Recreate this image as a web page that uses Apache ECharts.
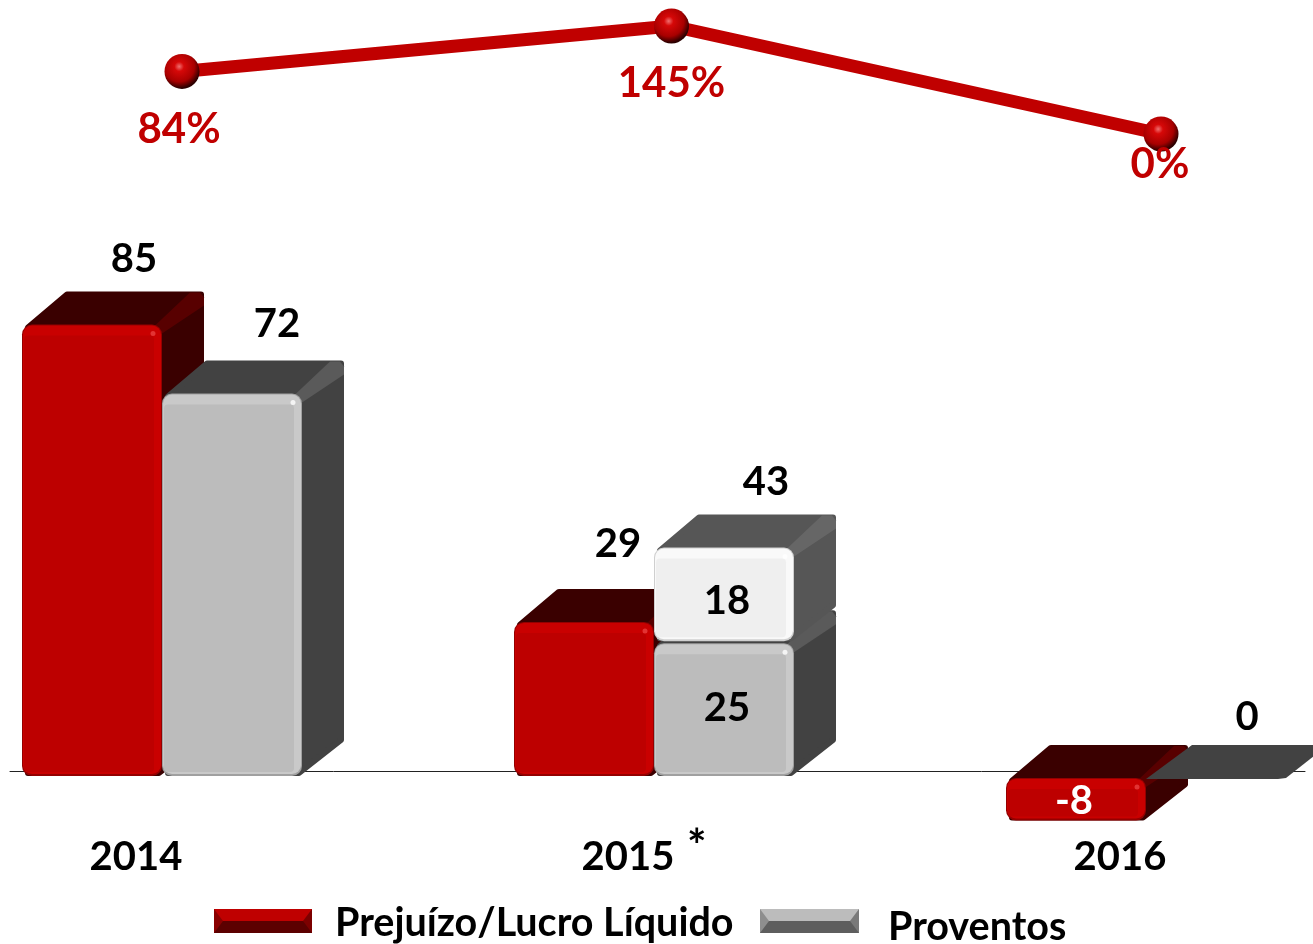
<!DOCTYPE html>
<html>
<head>
<meta charset="utf-8">
<style>
  html, body { margin: 0; padding: 0; background: #fff; }
  #chart { width: 1313px; height: 944px; }
</style>
<script src="https://cdn.jsdelivr.net/npm/echarts@6/dist/echarts.min.js"></script>
</head>
<body>
<div id="chart"></div>
<script>
// Chart data
const years = ["2014", "2015", "2016"];
const payout = [84, 145, 0];
const lucro = [85, 29, -8];
const proventosBase = [72, 25, 0];
const proventosExtra = [null, 18, null];
const proventosTotal = [72, 43, 0];

const lucroName = "Prejuízo/Lucro Líquido";
const proventosName = "Proventos";
const fontName = "Lato, Carlito, sans-serif";

// Bar look
const barWidth = 140;
const depthX = 42;
const depthY = 33;

const redColors = {
  back: "#3a0000",
  strip: "#580000",
  edge: "#940000",
  bevel: "#c90000",
  main: "#bd0000",
  spark: "#e84040",
};
const grayColors = {
  back: "#424242",
  strip: "#5a5a5a",
  edge: "#a0a0a0",
  bevel: "#c9c9c9",
  main: "#bcbcbc",
  spark: "#ffffff",
};
const whiteColors = {
  back: "#565656",
  strip: "#666666",
  edge: "#cfcfcf",
  bevel: "#f9f9f9",
  main: "#efefef",
  spark: "#ffffff",
};

// Label offset from the middle of the front face, px
const lucroLabelShift = [[42, -65], [34, -78], [-2, 23]];
const baseLabelShift = [[45, -69], [3, 65], [31, -61]];
const extraLabelShift = [[0, 0], [3, 54], [0, 0]];
const totalLabelShift = [42, -65];

function solidBar(api, colors, shiftX, labelColor, labelShift) {
  const cat = api.value(0);
  const from = api.value(1);
  const to = api.value(2);
  const center = api.coord([cat, from]);
  const x = center[0] + shiftX;
  const drop = to > 0 ? 5 : 7;
  const gap = from > 0 ? 2 : 0;
  const y0 = center[1] + drop - gap;
  const y1 = api.coord([cat, to])[1] + drop;
  const top = Math.min(y0, y1);
  const h = Math.abs(y1 - y0);
  const w = barWidth;
  const children = [];

  if (h > 2) {
    children.push(
      {
        type: "polygon",
        shape: {
          points: [
            [x + 6, top + 3],
            [x + depthX + 3, top - depthY + 3],
            [x + w + depthX - 3, top - depthY + 3],
            [x + w + depthX - 3, top + h - depthY - 3],
            [x + w - 3, top + h - 3],
            [x + 6, top + h - 3],
          ],
        },
        style: {
          fill: colors.back,
          stroke: colors.back,
          lineWidth: 6,
          lineJoin: "round",
        },
      },
      {
        type: "polygon",
        shape: {
          points: [
            [x + w - 8, top + 2],
            [x + w + depthX - 14, top - depthY + 1],
            [x + w + depthX - 4, top - depthY + 1],
            [x + w + depthX, top - depthY + 6],
            [x + w + depthX, top - depthY + 14],
            [x + w, top + 9],
          ],
        },
        style: { fill: colors.strip },
      },
      {
        type: "rect",
        shape: { x: x, y: top, width: w, height: h, r: 10 },
        style: { fill: colors.edge },
      },
      {
        type: "rect",
        shape: { x: x + 1, y: top + 1, width: w - 2, height: h - 3, r: 9 },
        style: { fill: colors.bevel },
      },
      {
        type: "rect",
        shape: {
          x: x + 2,
          y: top + 11,
          width: w - 10,
          height: h - 15,
          r: 4,
        },
        style: { fill: colors.main },
      },
      {
        type: "circle",
        shape: { cx: x + w - 9, cy: top + 9, r: 2.5 },
        style: { fill: colors.spark, opacity: 0.8 },
      },
    );
  } else {
    // zero height: only the flat top is left
    children.push({
      type: "polygon",
      shape: {
        points: [
          [x, top + 1],
          [x + depthX + 4, top - depthY],
          [x + w + depthX, top - depthY],
          [x + w, top],
          [x + w - 8, top + 1],
        ],
      },
      style: { fill: colors.back },
    });
  }

  const label = api.value(3);
  if (label !== "") {
    children.push({
      type: "text",
      style: {
        x: x + w / 2 + labelShift[0],
        y: top + labelShift[1],
        text: String(label),
        fill: labelColor,
        font: "bold 40px " + fontName,
        align: "center",
        verticalAlign: "middle",
      },
    });
  }

  return { type: "group", children: children };
}

const lucroData = years.map((y, i) => [i, 0, lucro[i], lucro[i]]);
const baseData = years.map((y, i) => [
  i,
  0,
  proventosBase[i],
  proventosBase[i],
]);
const extraData = years
  .map((y, i) =>
    proventosExtra[i] == null
      ? null
      : [i, proventosBase[i], proventosTotal[i], proventosExtra[i]],
  )
  .filter(Boolean);

const payoutLabelShift = [[-3, 58], [0, 57], [-1, 30]];

const sphereColor = {
  type: "radial",
  x: 0.42,
  y: 0.36,
  r: 0.62,
  colorStops: [
    { offset: 0, color: "#f07070" },
    { offset: 0.22, color: "#d60808" },
    { offset: 0.7, color: "#a80000" },
    { offset: 1, color: "#2c0000" },
  ],
};

function hardSplit(top, bottom) {
  return {
    type: "linear",
    x: 0,
    y: 0,
    x2: 0,
    y2: 1,
    colorStops: [
      { offset: 0, color: top },
      { offset: 0.5, color: top },
      { offset: 0.5, color: bottom },
      { offset: 1, color: bottom },
    ],
  };
}

const option = {
  backgroundColor: "#ffffff",
  animation: false,
  textStyle: { fontFamily: fontName },
  grid: [
    // payout line
    { left: -62.75, width: 1468.5, top: 26, height: 108, outerBoundsMode: "none" },
    // bars, category bands are centred under the year labels
    { left: -110, width: 1476, top: 293, height: 531, outerBoundsMode: "none" },
    // base line only
    { left: 10, width: 1295, top: 770, height: 1, outerBoundsMode: "none" },
  ],
  xAxis: [
    { gridIndex: 0, type: "category", data: years, show: false },
    {
      gridIndex: 1,
      type: "category",
      data: years,
      axisLine: { show: false, onZero: false },
      axisTick: { show: false },
      axisLabel: {
        margin: 13,
        fontSize: 40,
        fontWeight: "bold",
        color: "#000",
        fontFamily: fontName,
      },
    },
    {
      gridIndex: 2,
      type: "category",
      data: [],
      axisLine: { show: true, lineStyle: { color: "#222", width: 1 } },
      axisTick: { show: false },
      axisLabel: { show: false },
    },
  ],
  yAxis: [
    { gridIndex: 0, type: "value", min: 0, max: 145, show: false },
    { gridIndex: 1, type: "value", min: -10, max: 90, show: false },
    { gridIndex: 2, type: "value", min: 0, max: 1, show: false },
  ],
  legend: [
    {
      left: 214,
      top: 903,
      padding: 0,
      itemWidth: 98,
      itemHeight: 24,
      icon: "rect",
      data: [
        { name: lucroName, itemStyle: { color: hardSplit("#bf0000", "#5c0000") } },
      ],
      formatter: "{a|{name}}",
      textStyle: {
        rich: {
          a: {
            fontSize: 39.5,
            fontWeight: "bold",
            color: "#000",
            fontFamily: fontName,
            padding: [4, 0, 0, 18],
          },
        },
      },
    },
    {
      left: 760,
      top: 907,
      padding: 0,
      itemWidth: 99,
      itemHeight: 24,
      icon: "rect",
      data: [
        { name: proventosName, itemStyle: { color: hardSplit("#bcbcbc", "#5e5e5e") } },
      ],
      formatter: "{a|{name}}",
      textStyle: {
        rich: {
          a: {
            fontSize: 39.5,
            fontWeight: "bold",
            color: "#000",
            fontFamily: fontName,
            padding: [12, 0, 0, 24],
          },
        },
      },
    },
  ],
  graphic: [
    {
      type: "text",
      left: 687,
      top: 824,
      style: {
        text: "*",
        font: "bold 46px " + fontName,
        fill: "#000",
      },
    },
    // legend swatch bevel ends
    {
      type: "polygon",
      z: 20,
      shape: { points: [[214, 909], [223, 921], [214, 933]] },
      style: { fill: "#8a0000" },
    },
    {
      type: "polygon",
      z: 20,
      shape: { points: [[312, 909], [303, 921], [312, 933]] },
      style: { fill: "#7c0000" },
    },
    {
      type: "polygon",
      z: 20,
      shape: { points: [[760, 909], [769, 921], [760, 933]] },
      style: { fill: "#8e8e8e" },
    },
    {
      type: "polygon",
      z: 20,
      shape: { points: [[859, 909], [850, 921], [859, 933]] },
      style: { fill: "#7a7a7a" },
    },
  ],
  series: [
    {
      name: "Payout",
      type: "line",
      xAxisIndex: 0,
      yAxisIndex: 0,
      data: payout.map((v, i) => ({
        value: v,
        label: { offset: payoutLabelShift[i] },
      })),
      lineStyle: { color: "#c00000", width: 13 },
      symbol: "circle",
      symbolSize: 35,
      showSymbol: true,
      itemStyle: { color: sphereColor },
      label: {
        show: true,
        position: "inside",
        formatter: "{c}%",
        fontSize: 42,
        fontWeight: "bold",
        color: "#c00000",
        fontFamily: fontName,
      },
      z: 3,
    },
    {
      name: lucroName,
      type: "custom",
      xAxisIndex: 1,
      yAxisIndex: 1,
      data: lucroData,
      itemStyle: { color: "#bf0000" },
      renderItem: (params, api) =>
        solidBar(
          api,
          redColors,
          -114,
          api.value(2) < 0 ? "#fff" : "#000",
          lucroLabelShift[params.dataIndex],
        ),
      z: 2,
    },
    {
      name: proventosName,
      type: "custom",
      xAxisIndex: 1,
      yAxisIndex: 1,
      data: baseData,
      itemStyle: { color: "#bcbcbc" },
      renderItem: (params, api) =>
        solidBar(api, grayColors, 26, "#000", baseLabelShift[params.dataIndex]),
      z: 2,
    },
    {
      name: proventosName,
      type: "custom",
      xAxisIndex: 1,
      yAxisIndex: 1,
      data: extraData,
      itemStyle: { color: "#efefef" },
      renderItem: (params, api) =>
        solidBar(api, whiteColors, 26, "#000", extraLabelShift[api.value(0)]),
      z: 2,
    },
    // total above the stacked 2015 bar
    {
      name: "Total",
      type: "custom",
      xAxisIndex: 1,
      yAxisIndex: 1,
      data: [[1, proventosTotal[1]]],
      renderItem: (params, api) => {
        const p = api.coord([api.value(0), api.value(1)]);
        return {
          type: "text",
          style: {
            x: p[0] + 26 + barWidth / 2 + totalLabelShift[0],
            y: p[1] + 5 + totalLabelShift[1],
            text: String(api.value(1)),
            fill: "#000",
            font: "bold 40px " + fontName,
            align: "center",
            verticalAlign: "middle",
          },
        };
      },
      z: 4,
    },
  ],
};

const myChart = echarts.init(document.getElementById("chart"));
myChart.setOption(option);
</script>
</body>
</html>
